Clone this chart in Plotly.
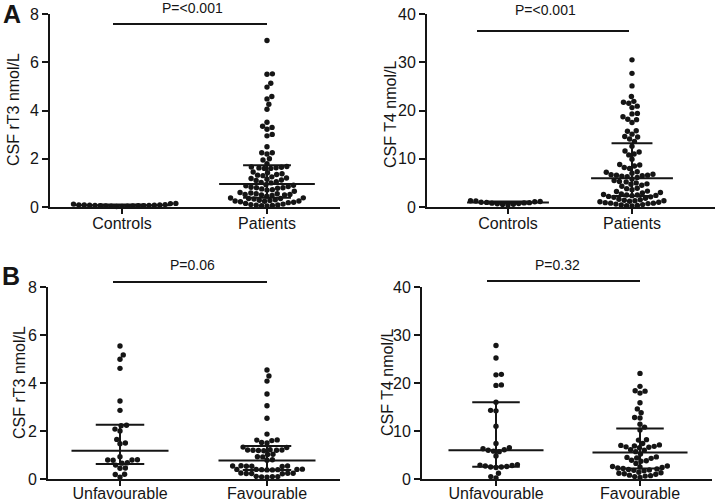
import numpy as np
import plotly.graph_objects as go

W, H = 716, 501
FONT = "Liberation Sans, Arial, sans-serif"
INK = "#151515"

# ---------------- data ----------------
# Panel A left: CSF rT3 (nmol/L)
a_rt3_categories = ["Controls", "Patients"]
a_rt3_controls = [0.15, 0.14, 0.12, 0.1, 0.09, 0.08, 0.08, 0.07, 0.07, 0.06, 0.06, 0.05,
                  0.05, 0.05, 0.04, 0.04, 0.03, 0.03, 0.02, 0.02]
a_rt3_patients = [6.9, 5.52, 5.5, 5.13, 4.97, 4.58, 4.48, 4.26, 4.05, 3.51, 3.35, 3.22, 3.3,
                  3.01, 2.95, 2.5, 2.25, 2.25, 2.2, 2.0, 1.95, 1.8,
                  1.68, 1.66, 1.65, 1.63, 1.62, 1.6, 1.6, 1.45, 1.42, 1.38, 1.35, 1.32, 1.3,
                  1.25, 1.2, 1.18, 1.15, 1.12, 1.1, 1.05, 1.02, 1.0,
                  0.92, 0.9, 0.88, 0.85, 0.82, 0.8, 0.8, 0.78, 0.75, 0.72, 0.7, 0.65, 0.6,
                  0.58, 0.55, 0.55, 0.52, 0.52, 0.5, 0.5, 0.48, 0.45,
                  0.38, 0.37, 0.35, 0.35, 0.33, 0.3, 0.28, 0.27, 0.25, 0.25, 0.24, 0.22,
                  0.2, 0.18, 0.15, 0.12, 0.1, 0.08, 0.07, 0.06, 0.05, 0.04]
a_rt3_median = [0.07, 0.95]
a_rt3_q1 = [0.05, 0.38]
a_rt3_q3 = [0.1, 1.73]

# Panel A right: CSF T4 (nmol/L)
a_t4_categories = ["Controls", "Patients"]
a_t4_controls = [1.3, 1.25, 1.15, 1.1, 1.0, 0.95, 0.9, 0.85, 0.8, 0.7, 0.65, 0.55, 0.5, 0.4]
a_t4_patients = [30.5, 27.7, 25.1, 22.9, 21.9, 21.7, 21.5, 20.9, 20.6, 19.4, 19.3, 18.7,
                 18.2, 18.1, 17.5, 15.8, 15.7, 15.1, 14.6, 14.5, 14.1, 13.6,
                 12.6, 11.6, 11.4, 11.0, 10.8, 9.9, 8.8, 8.7, 8.5, 8.2, 8.0, 7.3, 7.2, 7.0,
                 6.8, 6.7, 6.6, 6.6, 6.5, 6.4, 6.3, 6.1,
                 5.8, 5.5, 5.3, 5.2, 5.0, 4.8, 4.7, 4.5, 4.3, 3.9, 3.8, 3.6, 3.3, 3.2, 3.0,
                 2.9, 2.7, 2.6, 2.5, 2.5, 2.4, 2.35,
                 2.2, 2.1, 2.0, 1.8, 1.6, 1.5, 1.4, 1.3, 1.3, 1.2, 1.1, 1.0, 0.9, 0.8, 0.8,
                 0.7, 0.6, 0.5, 0.4, 0.3, 0.25, 0.2]
a_t4_median = [0.95, 5.95]
a_t4_q1 = [0.7, 2.28]
a_t4_q3 = [1.15, 13.2]

# Panel B left: CSF rT3 by outcome
b_rt3_categories = ["Unfavourable", "Favourable"]
b_rt3_unfav = [5.54, 5.17, 4.99, 4.61, 3.25, 2.86, 2.24, 2.22, 2.08, 2.0, 1.65, 1.5, 1.47,
               0.93, 0.8, 0.79, 0.79, 0.78, 0.68, 0.66, 0.58, 0.46, 0.45, 0.2, 0.19, 0.08]
b_rt3_fav = [4.54, 4.29, 4.08, 3.54, 3.05, 2.53, 1.87, 1.63, 1.62, 1.6, 1.52, 1.5, 1.33,
             1.31, 1.22, 1.21, 1.21, 1.2, 1.2, 1.19, 1.18, 1.03, 1.02, 0.93, 0.92, 0.8,
             0.78, 0.55, 0.54, 0.54, 0.53, 0.53, 0.52, 0.41, 0.4, 0.4, 0.4, 0.39, 0.39,
             0.38, 0.38, 0.25, 0.24, 0.24, 0.23, 0.23, 0.22, 0.11, 0.1, 0.1, 0.09, 0.08]
b_rt3_median = [1.18, 0.77]
b_rt3_q1 = [0.62, 0.37]
b_rt3_q3 = [2.26, 1.37]

# Panel B right: CSF T4 by outcome
b_t4_categories = ["Unfavourable", "Favourable"]
b_t4_unfav = [27.8, 25.2, 21.8, 21.7, 19.6, 19.5, 16.0, 14.3, 14.2, 11.0, 7.4, 6.5, 6.3,
              6.1, 6.0, 5.8, 5.7, 4.8, 3.0, 2.9, 2.8, 2.7, 2.6, 2.5, 2.5, 2.4, 1.2, 0.5, 0.2]
b_t4_fav = [22.0, 19.3, 18.4, 18.3, 17.9, 15.9, 14.6, 13.8, 12.8, 12.7, 11.4, 10.8, 10.2,
            8.2, 8.1, 7.4, 7.1, 7.0, 6.9, 6.8, 6.7, 6.6, 6.5, 6.1, 6.0, 5.7,
            5.2, 4.6, 4.5, 4.4, 4.3, 3.9, 3.8, 3.7, 3.25, 2.7, 2.6, 2.5, 2.4, 2.3, 2.2,
            2.1, 2.0, 1.9, 1.8, 1.7, 1.4, 1.3, 1.2, 1.1, 1.0, 0.8, 0.7, 0.6, 0.5, 0.3]
b_t4_median = [6.0, 5.5]
b_t4_q1 = [2.55, 2.2]
b_t4_q3 = [16.0, 10.5]

p_labels = ["P=<0.001", "P=<0.001", "P=0.06", "P=0.32"]
y_titles = ["CSF rT3 nmol/L", "CSF T4 nmol/L", "CSF rT3 nmol/L", "CSF T4 nmol/L"]
y_tops = [8, 40, 8, 40]
y_steps = [2, 10, 2, 10]

# ---------------- layout geometry (pixels) ----------------
panels = [
    dict(xpx=(50, 340), ypx=(14, 207), cats=(122, 267),
         groups=(a_rt3_controls, a_rt3_patients), cat=a_rt3_categories,
         med=a_rt3_median, q1=a_rt3_q1, q3=a_rt3_q3,
         br=(113, 267, 24), ptxt=(192, 8), ytit=(13, 110), lblstand=-4),
    dict(xpx=(427, 715), ypx=(14, 207), cats=(508, 632),
         groups=(a_t4_controls, a_t4_patients), cat=a_t4_categories,
         med=a_t4_median, q1=a_t4_q1, q3=a_t4_q3,
         br=(477, 629, 31), ptxt=(545, 10), ytit=(390, 114), lblstand=-4),
    dict(xpx=(48, 340), ypx=(287, 479), cats=(120, 267),
         groups=(b_rt3_unfav, b_rt3_fav), cat=b_rt3_categories,
         med=b_rt3_median, q1=b_rt3_q1, q3=b_rt3_q3,
         br=(113, 267, 282), ptxt=(192, 265), ytit=(19, 383), lblstand=-6),
    dict(xpx=(422, 712), ypx=(287, 479), cats=(496, 640),
         groups=(b_t4_unfav, b_t4_fav), cat=b_t4_categories,
         med=b_t4_median, q1=b_t4_q1, q3=b_t4_q3,
         br=(487, 640, 281), ptxt=(557, 265), ytit=(387, 383), lblstand=-6),
]

DOT = 5.4  # dot spacing in px


def beeswarm(values, ppu_y, d=DOT):
    ys = np.asarray(values, dtype=float) * ppu_y
    order = np.argsort(ys, kind="stable")
    xs = np.zeros(len(ys))
    px_list, py_list = [], []
    for k, i in enumerate(order):
        y = ys[i]
        iv = []
        for px, py in zip(px_list, py_list):
            dy = abs(py - y)
            if dy < d:
                dx = np.sqrt(d * d - dy * dy)
                iv.append((px - dx, px + dx))
        cands = [0.0] + [a for a, b in iv] + [b for a, b in iv]
        sign = 1 if k % 2 == 0 else -1
        cands.sort(key=lambda c: (round(abs(c), 6), -sign * c))
        for c in cands:
            if all(not (a + 1e-6 < c < b - 1e-6) for a, b in iv):
                xs[i] = c
                break
        px_list.append(xs[i])
        py_list.append(y)
    return xs


fig = go.Figure()
layout = dict(width=W, height=H, margin=dict(l=0, r=0, t=0, b=0, autoexpand=False),
              paper_bgcolor="white", plot_bgcolor="white", showlegend=False,
              font=dict(family=FONT, size=16, color=INK))
annotations, shapes = [], []

for n, p in enumerate(panels):
    k = "" if n == 0 else str(n + 1)
    xa, ya = "x" + k, "y" + k
    x0, x1 = p["xpx"]
    c0, c1 = p["cats"]
    ppu_x = c1 - c0
    r0 = -(c0 - x0) / ppu_x
    r1 = 1 + (x1 - c1) / ppu_x
    ytop_px, ybot_px = p["ypx"]
    ppu_y = (ybot_px - ytop_px) / y_tops[n]

    for gi, vals in enumerate(p["groups"]):
        off = beeswarm(vals, ppu_y) / ppu_x
        fig.add_trace(go.Scatter(
            x=gi + off, y=vals, mode="markers", xaxis=xa, yaxis=ya,
            marker=dict(size=5.4, color=INK, line=dict(width=0)),
            cliponaxis=False, hoverinfo="skip"))
    for gi in range(2):
        m, lo, hi = p["med"][gi], p["q1"][gi], p["q3"][gi]
        xs = [gi - 0.33, gi + 0.33, None, gi - 0.165, gi + 0.165, None,
              gi - 0.165, gi + 0.165, None, gi, gi]
        ys = [m, m, None, hi, hi, None, lo, lo, None, lo, hi]
        fig.add_trace(go.Scatter(x=xs, y=ys, mode="lines", xaxis=xa, yaxis=ya,
                                 line=dict(color=INK, width=2), hoverinfo="skip",
                                 cliponaxis=False))

    layout["xaxis" + k] = dict(
        domain=[x0 / W, x1 / W], range=[r0, r1], anchor=ya, automargin=False,
        tickvals=[0, 1], ticktext=p["cat"], ticks="outside", ticklen=5,
        tickwidth=1.8, tickcolor=INK, showline=True, linewidth=1.8, linecolor=INK,
        showgrid=False, zeroline=False, fixedrange=True,
        ticklabelstandoff=p["lblstand"],
        tickfont=dict(family=FONT, size=16, color=INK))
    layout["yaxis" + k] = dict(
        domain=[1 - ybot_px / H, 1 - ytop_px / H], range=[0, y_tops[n]], anchor=xa,
        automargin=False,
        tickvals=list(range(0, y_tops[n] + 1, y_steps[n])), ticks="outside", ticklen=6,
        tickwidth=1.8, tickcolor=INK, showline=True, linewidth=1.8, linecolor=INK,
        showgrid=False, zeroline=False, fixedrange=True,
        tickfont=dict(family=FONT, size=16, color=INK))

    bx0, bx1, by = p["br"]
    shapes.append(dict(type="line", xref="paper", yref="paper",
                       x0=bx0 / W, x1=bx1 / W, y0=1 - by / H, y1=1 - by / H,
                       line=dict(color=INK, width=1.8)))
    tx, ty = p["ptxt"]
    annotations.append(dict(text=p_labels[n], x=tx / W, y=1 - ty / H, xref="paper",
                            yref="paper", showarrow=False, xanchor="center",
                            yanchor="middle", font=dict(family=FONT, size=14, color=INK)))
    yx, yy = p["ytit"]
    annotations.append(dict(text=y_titles[n], x=yx / W, y=1 - yy / H, xref="paper",
                            yref="paper", showarrow=False, textangle=-90,
                            xanchor="center", yanchor="middle",
                            font=dict(family=FONT, size=16, color=INK)))

for letter, (lx, ly) in zip(["A", "B"], [(12, 14), (11, 276)]):
    annotations.append(dict(text="<b>" + letter + "</b>", x=lx / W, y=1 - ly / H,
                            xref="paper", yref="paper", showarrow=False,
                            xanchor="center", yanchor="middle",
                            font=dict(family=FONT, size=25, color=INK)))

layout["annotations"] = annotations
layout["shapes"] = shapes
fig.update_layout(**layout)
fig.write_html("out.html", config={"displayModeBar": False},
               post_script="document.body.style.margin='0px';"
                           "document.body.style.padding='0px';"
                           "document.documentElement.style.overflow='hidden';")
